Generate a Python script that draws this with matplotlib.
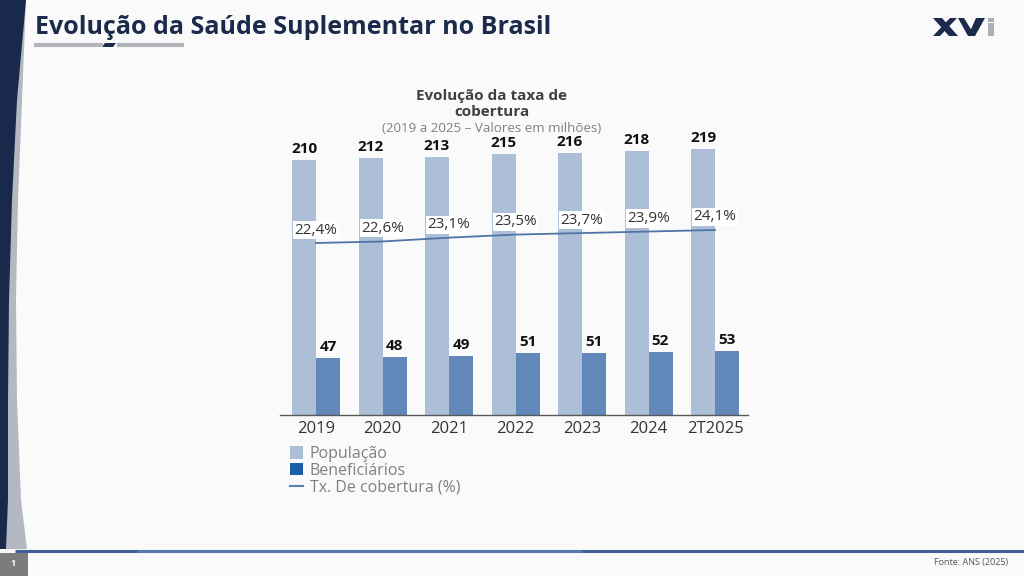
import matplotlib
matplotlib.use("Agg")
import matplotlib.pyplot as plt
from matplotlib.patches import Polygon, Rectangle, Patch
from matplotlib.lines import Line2D

plt.rcParams['font.family'] = ['Open Sans', 'DejaVu Sans']

# ---- data ----
categories = ["2019", "2020", "2021", "2022", "2023", "2024", "2T2025"]
populacao = [210, 212, 213, 215, 216, 218, 219]
beneficiarios = [47, 48, 49, 51, 51, 52, 53]
cobertura = [22.4, 22.6, 23.1, 23.5, 23.7, 23.9, 24.1]
cobertura_labels = ["22,4%", "22,6%", "23,1%", "23,5%", "23,7%", "23,9%", "24,1%"]

W, H = 1024, 576
fig = plt.figure(figsize=(W / 100, H / 100), dpi=100)
fig.patch.set_facecolor("#fafafa")

def fx(px):
    return px / W

def fy(py):
    return 1 - py / H

# ---- background decoration ----
bg = fig.add_axes([0, 0, 1, 1], zorder=0)
bg.set_xlim(0, W)
bg.set_ylim(H, 0)
bg.axis("off")
gray_pts = [(0, 0), (26, 0), (22, 100), (18, 200), (16, 300), (17, 400), (21, 500), (27, 549), (0, 549)]
navy_pts = [(0, 0), (26, 0), (17, 100), (12, 200), (9, 300), (8, 400), (8, 500), (6, 549), (0, 549)]
bg.add_patch(Polygon(gray_pts, closed=True, facecolor="#b4b9c1", edgecolor="none"))
bg.add_patch(Polygon(navy_pts, closed=True, facecolor="#18294c", edgecolor="none"))
bg.add_patch(Rectangle((0, 553), 28, 23, facecolor="#7c7c7c", edgecolor="none"))
bg.text(13, 564, "1", color="white", fontsize=6.5, ha="center", va="center", fontweight="bold")
# bottom line
bg.plot([15, 1024], [551, 551], color="#3b5f96", lw=2.2, solid_capstyle="butt")
bg.plot([137, 582], [551, 551], color="#5379ae", lw=2.2, solid_capstyle="butt")
bg.text(1008, 562, "Fonte: ANS (2025)", color="#555555", fontsize=6.5, ha="right", va="center")

# header
bg.text(35, 28, "Evolução da Saúde Suplementar no Brasil", color="#1c2b4b", fontsize=18,
        fontweight="bold", ha="left", va="center")
bg.plot([34, 103], [44.5, 44.5], color="#b3b5bd", lw=3, solid_capstyle="butt")
bg.plot([117, 184], [44.5, 44.5], color="#b3b5bd", lw=3, solid_capstyle="butt")
bg.add_patch(Polygon([(105, 43), (116, 43), (113, 47), (102, 47)], closed=True,
                     facecolor="#1c2b4b", edgecolor="none"))
# logo XVi
navy = "#1c2b4b"
logo_gray = "#aab0ba"
bg.add_patch(Polygon([(933, 18), (942, 18), (958, 36), (949, 36)], closed=True, facecolor=navy, edgecolor="none"))
bg.add_patch(Polygon([(950, 18), (957, 18), (940, 36), (933, 36)], closed=True, facecolor=navy, edgecolor="none"))
bg.add_patch(Polygon([(958, 18), (964, 18), (975, 36), (968, 36)], closed=True, facecolor=navy, edgecolor="none"))
bg.add_patch(Polygon([(976, 18), (985, 18), (975, 36), (968, 36)], closed=True, facecolor=navy, edgecolor="none"))
bg.add_patch(Rectangle((988, 23), 6, 13, facecolor=logo_gray, edgecolor="none"))
bg.add_patch(Rectangle((988, 18), 6, 3.5, facecolor=logo_gray, edgecolor="none"))

# chart titles
bg.text(492, 96, "Evolução da taxa de", color="#404040", fontsize=11, fontweight="bold",
        ha="center", va="center")
bg.text(492, 112, "cobertura", color="#404040", fontsize=11, fontweight="bold",
        ha="center", va="center")
bg.text(492, 128, "(2019 a 2025 – Valores em milhões)", color="#808080", fontsize=9.6,
        ha="center", va="center")

# ---- chart ----
ax_left, ax_right = 280, 748
ax_bottom, ax_top = 415, 100
ax = fig.add_axes([fx(ax_left), fy(ax_bottom), (ax_right - ax_left) / W, (ax_bottom - ax_top) / H], zorder=2)
ax.patch.set_alpha(0)
spacing = 66.5
x = list(range(len(categories)))
bw = 24 / spacing
ax.set_xlim((ax_left - 316) / spacing, (ax_right - 316) / spacing)
px_per_unit = 1.213
ax.set_ylim(0, (ax_bottom - ax_top) / px_per_unit)

ax.bar([i - bw / 2 for i in x], populacao, width=bw, color="#adbed7", zorder=2)
ax.bar([i + bw / 2 for i in x], beneficiarios, width=bw, color="#6188b9", zorder=2)

for i in x:
    ax.annotate(str(populacao[i]), xy=(i - bw / 2, populacao[i]), xytext=(0, 4),
                textcoords="offset pixels", ha="center", va="bottom", fontsize=11,
                fontweight="bold", color="#111111")
    ax.annotate(str(beneficiarios[i]), xy=(i + bw / 2, beneficiarios[i]), xytext=(0, 4),
                textcoords="offset pixels", ha="center", va="bottom", fontsize=11,
                fontweight="bold", color="#111111")

for s in ["top", "right", "left"]:
    ax.spines[s].set_visible(False)
ax.spines["bottom"].set_color("#595959")
ax.spines["bottom"].set_linewidth(1.0)
ax.set_yticks([])
ax.set_xticks(x)
ax.set_xticklabels(categories, fontsize=12, color="#333333")
ax.tick_params(axis="x", length=0, pad=4)

ax2 = ax.twinx()
ax2.set_zorder(3)
ax2.patch.set_alpha(0)
ppu2 = 7.65
y0 = 22.4 - 172 / ppu2
ax2.set_ylim(y0, y0 + (ax_bottom - ax_top) / ppu2)
ax2.plot(x, cobertura, color="#4f74a6", lw=1.3, zorder=3)
for i in x:
    ax2.annotate(cobertura_labels[i], xy=(i, cobertura[i]), xytext=(0, 13),
                 textcoords="offset pixels", ha="center", va="center", fontsize=11,
                 color="#333333",
                 bbox=dict(boxstyle="square,pad=0.1", facecolor="white", edgecolor="none"))
ax2.axis("off")

# legend
handles = [Patch(facecolor="#adbed7", edgecolor="none"),
           Patch(facecolor="#1c5fa9", edgecolor="none"),
           Line2D([0], [0], color="#5b80b0", lw=1.5)]
labels = ["População", "Beneficiários", "Tx. De cobertura (%)"]
fig.legend(handles, labels, loc="upper left", bbox_to_anchor=(fx(290), fy(446)),
           frameon=False, fontsize=11.5, labelcolor="#808080", handlelength=0.8,
           handleheight=0.8, handletextpad=0.45, labelspacing=0.05, borderpad=0,
           borderaxespad=0)

fig.savefig("out.png", dpi=100, facecolor=fig.get_facecolor())
